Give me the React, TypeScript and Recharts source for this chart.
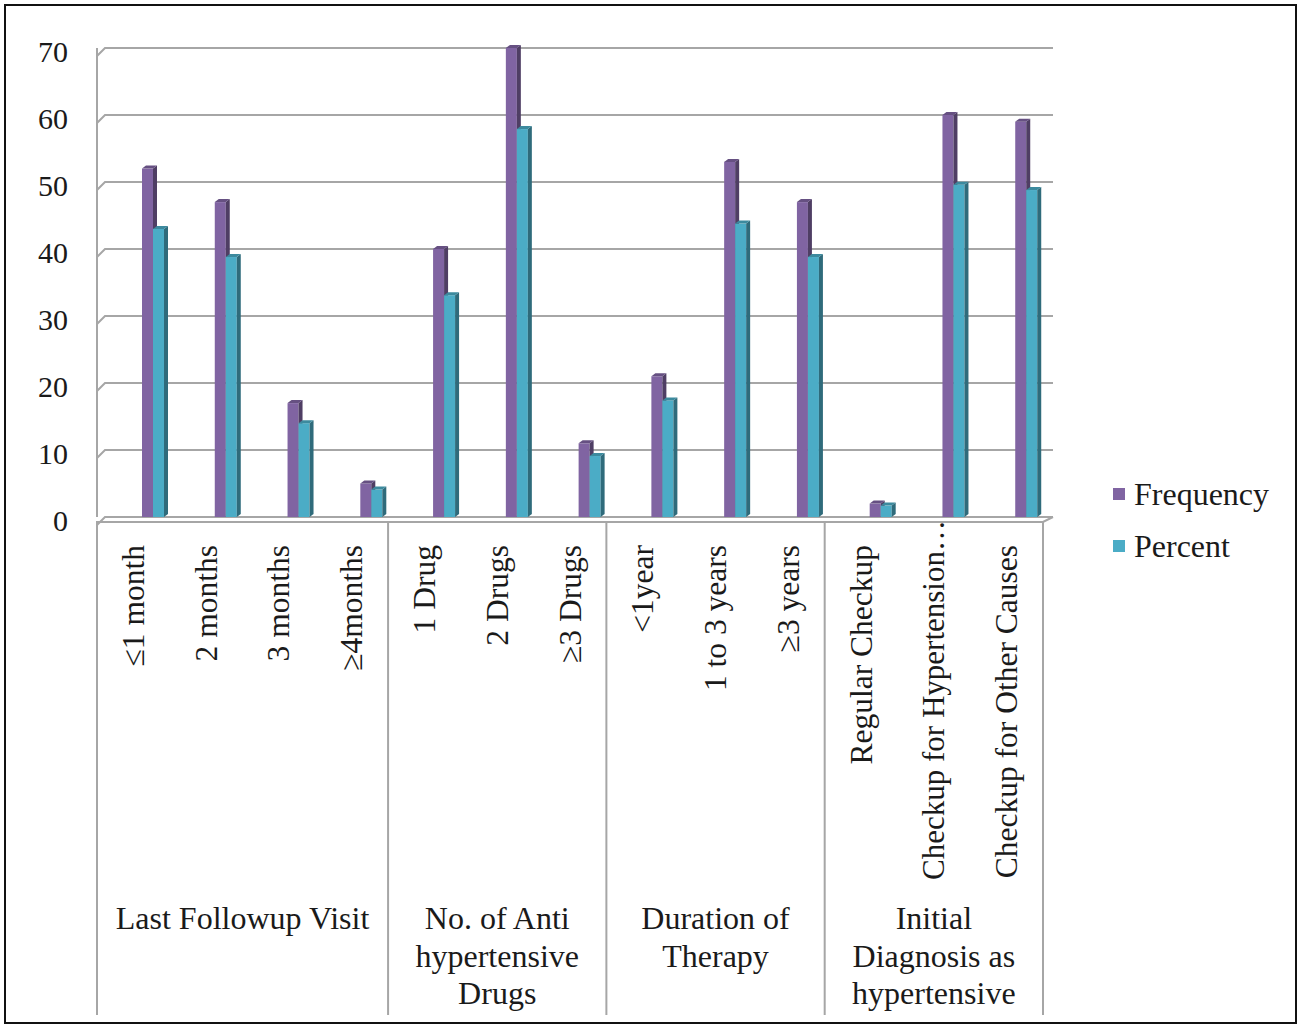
import { Bar, BarChart, CartesianGrid, Legend, XAxis, YAxis } from 'recharts'

const categories = [
  '≤1 month',
  '2 months',
  '3 months',
  '≥4months',
  '1 Drug',
  '2 Drugs',
  '≥3 Drugs',
  '<1year',
  '1 to 3 years',
  '≥3 years',
  'Regular Checkup',
  'Checkup for Hypertension…',
  'Checkup for Other Causes',
]
const frequency = [52, 47, 17, 5, 40, 70, 11, 21, 53, 47, 2, 60, 59]
const percent = [43, 38.8, 14, 4.1, 33.1, 57.9, 9.1, 17.4, 43.8, 38.8, 1.7, 49.6, 48.8]
const yTicks = [0, 10, 20, 30, 40, 50, 60, 70]

const groupLabels = [
  ['Last Followup Visit'],
  ['No. of Anti', 'hypertensive', 'Drugs'],
  ['Duration of', 'Therapy'],
  ['Initial', 'Diagnosis as', 'hypertensive'],
]
const groupSizes = [4, 3, 3, 3]

const FONT = "'Liberation Serif', 'Times New Roman', serif"
const GRID = '#a6a6a6'
const PURPLE = '#8064a2'
const TEAL = '#4bacc6'
const TEXT = '#1a1a1a'

const data = categories.map((name, i) => ({
  name,
  slot: i + 0.5,
  frequency: frequency[i],
  percent: percent[i],
}))

// group boundaries and centres on a 0..n slot axis
const boundaries: number[] = [0]
const centers: { v: number; lines: string[] }[] = []
groupSizes.forEach((s, i) => {
  const start = boundaries[boundaries.length - 1]
  centers.push({ v: start + s / 2, lines: groupLabels[i] })
  boundaries.push(start + s)
})
const groupTicks = [...boundaries, ...centers.map((c) => c.v)].sort((a, b) => a - b)

const shade = (hex: string, k: number) => {
  const n = parseInt(hex.slice(1), 16)
  const f = (c: number) => Math.max(0, Math.min(255, Math.round(c * k)))
  return `rgb(${f((n >> 16) & 255)},${f((n >> 8) & 255)},${f(n & 255)})`
}

const DX = 20
const DEPTH = 4
const LIFT = 3

function Bar3D(props: any) {
  const { x, y, width, height, fill } = props
  if (height == null || isNaN(height)) return null
  const x0 = x + DX
  const x1 = x0 + width
  return (
    <g>
      <rect x={x0} y={y} width={width} height={height} fill={fill} />
      <polygon
        points={`${x1},${y} ${x1 + DEPTH},${y - LIFT} ${x1 + DEPTH},${y + height - LIFT} ${x1},${y + height}`}
        fill={shade(fill, 0.62)}
      />
      <polygon
        points={`${x0},${y} ${x0 + DEPTH},${y - LIFT} ${x1 + DEPTH},${y - LIFT} ${x1},${y}`}
        fill={shade(fill, 0.8)}
      />
    </g>
  )
}

function gridLine(p: any) {
  const { x1, y1, x2, index } = p
  const bottom = p.y + p.height
  const isFloor = Math.abs(y1 - bottom) < 1
  return (
    <g key={`gl-${index}`}>
      <path
        d={`M${x1},${y1 + 8} L${x1 + 8},${y1} L${x2 + 10},${y1}`}
        stroke={GRID}
        strokeWidth={2}
        fill="none"
      />
      {isFloor && (
        <path
          d={`M${x1},${y1 + 5} L${x2},${y1 + 5} L${x2 + 10},${y1}`}
          stroke={GRID}
          strokeWidth={2}
          fill="none"
        />
      )}
    </g>
  )
}

function CategoryTick(props: any) {
  const { x, y, payload } = props
  // the clipped label is squeezed into the box the way the source does it
  const clipped = String(payload.value).endsWith('…')
  return (
    <text
      x={0}
      y={0}
      transform={`translate(${x},${clipped ? y - 25 : y}) rotate(-90)`}
      textAnchor="end"
      dominantBaseline="central"
      fontFamily={FONT}
      fontSize={31.5}
      fill={TEXT}
      {...(clipped ? { textLength: 360, lengthAdjust: 'spacingAndGlyphs' } : {})}
    >
      {payload.value}
    </text>
  )
}

function GroupTick(props: any) {
  const { x, y, payload } = props
  const v = payload.value as number
  const c = centers.find((g) => Math.abs(g.v - v) < 1e-6)
  if (!c) {
    return <line x1={x} x2={x} y1={y + 3} y2={y + 497} stroke={GRID} strokeWidth={2} />
  }
  return (
    <text x={x} y={y + 400} textAnchor="middle" fontFamily={FONT} fontSize={32} fill={TEXT}>
      {c.lines.map((l, i) => (
        <tspan key={i} x={x} y={y + 400 + i * 37.5} dominantBaseline="central">
          {l}
        </tspan>
      ))}
    </text>
  )
}

function LegendBox() {
  const items = [
    { label: 'Frequency', color: PURPLE },
    { label: 'Percent', color: TEAL },
  ]
  return (
    <div style={{ fontFamily: FONT, fontSize: 32, color: TEXT }}>
      {items.map((it) => (
        <div key={it.label} style={{ display: 'flex', alignItems: 'center', height: 52 }}>
          <span
            style={{ width: 12, height: 12, background: it.color, display: 'inline-block', marginRight: 9 }}
          />
          <span>{it.label}</span>
        </div>
      ))}
    </div>
  )
}

export default function App() {
  return (
    <div style={{ position: 'absolute', left: 0, top: 0, width: 1299, height: 1028, background: '#fff' }}>
      <div
        style={{
          position: 'absolute',
          left: 4,
          top: 4,
          width: 1293,
          height: 1020,
          border: '2px solid #111',
          boxSizing: 'border-box',
        }}
      />
      <div style={{ position: 'absolute', left: 0, top: 0 }}>
        <BarChart
          width={1299}
          height={1028}
          data={data}
          margin={{ top: 48, right: 256, left: 37, bottom: 509 }}
          barSize={11}
          barGap={0}
        >
          <CartesianGrid vertical={false} horizontal={gridLine} />
          <XAxis
            dataKey="name"
            axisLine={false}
            tickLine={false}
            tickSize={0}
            tickMargin={28}
            height={1}
            interval={0}
            tick={<CategoryTick />}
          />
          <XAxis
            xAxisId="grp"
            dataKey="slot"
            type="number"
            domain={[0, categories.length]}
            ticks={groupTicks}
            allowDataOverflow
            axisLine={false}
            tickLine={false}
            tickSize={0}
            tickMargin={0}
            height={1}
            interval={0}
            tick={<GroupTick />}
          />
          <YAxis
            domain={[0, 70]}
            ticks={yTicks}
            width={60}
            axisLine={{ stroke: GRID, strokeWidth: 2 }}
            tickLine={false}
            tickSize={0}
            tickMargin={29}
            tick={{ fontFamily: FONT, fontSize: 30, fill: TEXT, dy: 3 }}
          />
          <Legend
            layout="vertical"
            align="center"
            verticalAlign="middle"
            content={<LegendBox />}
            wrapperStyle={{ position: 'absolute', left: 1113, top: 468, width: 184 }}
          />
          <Bar dataKey="frequency" name="Frequency" fill={PURPLE} shape={<Bar3D />} isAnimationActive={false} />
          <Bar dataKey="percent" name="Percent" fill={TEAL} shape={<Bar3D />} isAnimationActive={false} />
        </BarChart>
      </div>
    </div>
  )
}
